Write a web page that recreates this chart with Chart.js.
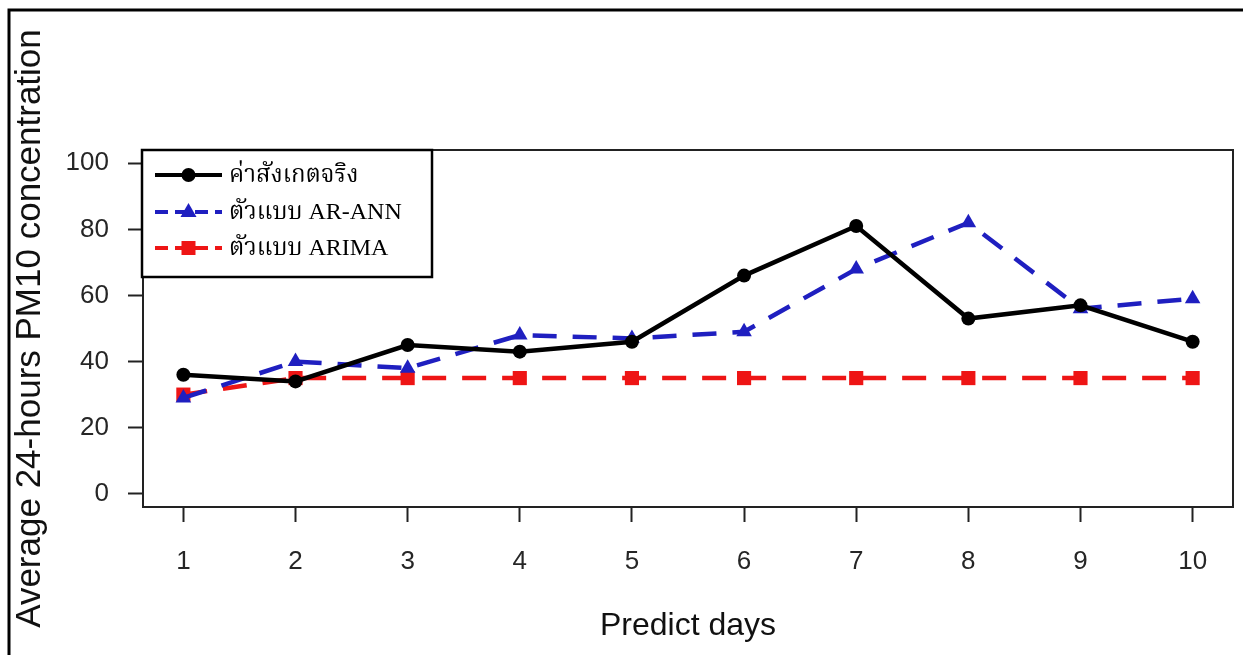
<!DOCTYPE html>
<html>
<head>
<meta charset="utf-8">
<script src="https://cdn.jsdelivr.net/npm/chart.js@4.4.1/dist/chart.umd.min.js"></script>
<style>
  html, body { margin: 0; padding: 0; background: #ffffff; }
  #wrap { width: 1243px; height: 655px; }
</style>
</head>
<body>
<div id="wrap"><canvas id="grafica"></canvas></div>
<script>
// datos
var dias = [1, 2, 3, 4, 5, 6, 7, 8, 9, 10];
var observado = [36, 34, 45, 43, 46, 66, 81, 53, 57, 46];
var arAnn = [29, 40, 38, 48, 47, 49, 68, 82, 56, 59];
var arima = [30, 35, 35, 35, 35, 35, 35, 35, 35, 35];
var yTicks = [0, 20, 40, 60, 80, 100];

var etiquetas = ['ค่าสังเกตจริง', 'ตัวแบบ AR-ANN', 'ตัวแบบ ARIMA'];
var tituloY = 'Average 24-hours PM10 concentration';
var tituloX = 'Predict days';

var NEGRO = '#000000';
var AZUL = '#1f1fc0';
var ROJO = '#ee1515';
var TEXTO = '#262626';

function puntos(vals) {
    return dias.map(function (d, i) { return { x: d, y: vals[i] }; });
}

// marco exterior, caja del grafico y leyenda dentro del area
var marcoPlugin = {
    id: 'marco',
    beforeDraw: function (chart) {
        var ctx = chart.ctx;
        ctx.save();
        ctx.fillStyle = '#ffffff';
        ctx.fillRect(0, 0, chart.width, chart.height);
        ctx.strokeStyle = '#000';
        ctx.lineWidth = 3;
        ctx.beginPath();
        ctx.moveTo(9, chart.height);
        ctx.lineTo(9, 10);
        ctx.lineTo(chart.width, 10);
        ctx.stroke();
        ctx.restore();
    },
    afterDraw: function (chart) {
        var ctx = chart.ctx;
        var a = chart.chartArea;
        ctx.save();
        ctx.strokeStyle = '#222';
        ctx.lineWidth = 2;
        ctx.strokeRect(a.left, a.top, a.right - a.left, a.bottom - a.top);

        // leyenda
        var lx = a.left - 1, ly = a.top, lw = 290, lh = 127;
        ctx.fillStyle = '#fff';
        ctx.fillRect(lx, ly, lw, lh);
        ctx.strokeStyle = '#000';
        ctx.lineWidth = 2.5;
        ctx.strokeRect(lx, ly, lw, lh);

        var filas = [25, 62, 98];
        chart.data.datasets.forEach(function (ds, i) {
            var y = ly + filas[i];
            var x0 = lx + 13, x1 = lx + 80, xm = (x0 + x1) / 2;
            ctx.strokeStyle = ds.borderColor;
            ctx.lineWidth = 4;
            ctx.setLineDash(ds.borderDash && ds.borderDash.length ? [13, 7] : []);
            ctx.beginPath();
            ctx.moveTo(x0, y);
            ctx.lineTo(x1, y);
            ctx.stroke();
            ctx.setLineDash([]);
            ctx.fillStyle = ds.borderColor;
            ctx.beginPath();
            if (ds.pointStyle === 'circle') {
                ctx.arc(xm, y, 7, 0, Math.PI * 2);
            } else if (ds.pointStyle === 'triangle') {
                ctx.moveTo(xm, y - 9);
                ctx.lineTo(xm + 8, y + 5);
                ctx.lineTo(xm - 8, y + 5);
                ctx.closePath();
            } else {
                ctx.rect(xm - 7, y - 7, 14, 14);
            }
            ctx.fill();
            ctx.fillStyle = '#000';
            ctx.font = '24px "Liberation Serif", "Noto Serif Thai", "Noto Sans Thai", serif';
            ctx.textBaseline = 'middle';
            ctx.textAlign = 'left';
            ctx.fillText(ds.label, lx + 87, y + 1);
        });
        ctx.restore();
    }
};

var ctx = document.getElementById('grafica');
var grafica = new Chart(ctx.getContext('2d'), {
    type: 'line',
    data: {
        datasets: [{
            label: etiquetas[0],
            data: puntos(observado),
            borderColor: NEGRO,
            backgroundColor: NEGRO,
            borderWidth: 4.5,
            pointStyle: 'circle',
            pointRadius: 7,
            pointBorderWidth: 0
        }, {
            label: etiquetas[1],
            data: puntos(arAnn),
            borderColor: AZUL,
            backgroundColor: AZUL,
            borderWidth: 4.5,
            borderDash: [24, 16],
            pointStyle: 'triangle',
            pointRadius: 9,
            pointBorderWidth: 0
        }, {
            label: etiquetas[2],
            data: puntos(arima),
            borderColor: ROJO,
            backgroundColor: ROJO,
            borderWidth: 4.5,
            borderDash: [24, 16],
            pointStyle: 'rect',
            pointRadius: 10,
            pointBorderWidth: 0
        }]
    },
    options: {
        responsive: true,
        maintainAspectRatio: false,
        animation: false,
        layout: {
            padding: { left: 0, top: 150, right: 6, bottom: 0 }
        },
        plugins: {
            legend: { display: false },
            tooltip: { enabled: false }
        },
        scales: {
            x: {
                type: 'linear',
                min: 0.64,
                max: 10.36,
                afterBuildTicks: function (scale) {
                    scale.ticks = dias.map(function (v) { return { value: v }; });
                },
                afterFit: function (scale) { scale.height = 148; },
                grid: {
                    drawOnChartArea: false,
                    drawTicks: true,
                    tickLength: 15,
                    tickWidth: 2,
                    tickColor: '#222'
                },
                border: { display: false },
                ticks: {
                    padding: 24,
                    color: TEXTO,
                    maxRotation: 0,
                    font: { family: '"Liberation Sans", Arial, sans-serif', size: 26 }
                },
                title: {
                    display: true,
                    text: tituloX,
                    color: '#111',
                    padding: { top: 0, bottom: 10 },
                    font: { family: '"Liberation Sans", Arial, sans-serif', size: 32 }
                }
            },
            y: {
                min: -4,
                max: 104,
                afterBuildTicks: function (scale) {
                    scale.ticks = yTicks.map(function (v) { return { value: v }; });
                },
                afterFit: function (scale) { scale.width = 143; },
                grid: {
                    drawOnChartArea: false,
                    drawTicks: true,
                    tickLength: 15,
                    tickWidth: 2,
                    tickColor: '#222'
                },
                border: { display: false },
                ticks: {
                    padding: 19,
                    color: TEXTO,
                    font: { family: '"Liberation Sans", Arial, sans-serif', size: 26 }
                },
                title: {
                    display: true,
                    text: tituloY,
                    color: '#111',
                    padding: { top: 9, bottom: 0 },
                    font: { family: '"Liberation Sans", Arial, sans-serif', size: 35 }
                }
            }
        }
    },
    plugins: [marcoPlugin]
});
</script>
</body>
</html>
